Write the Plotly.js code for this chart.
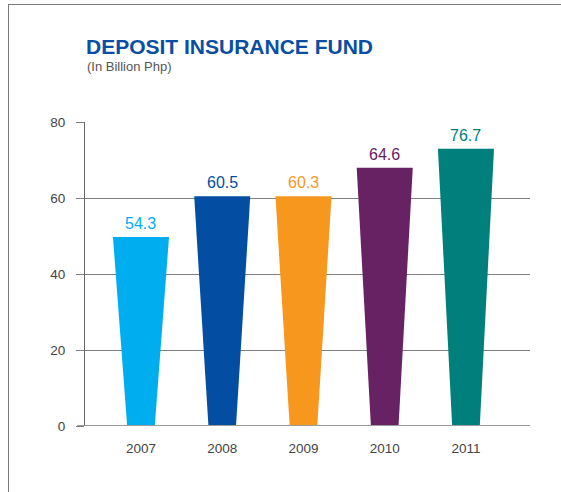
<!DOCTYPE html>
<html>
<head>
<meta charset="utf-8">
<script src="https://cdn.plot.ly/plotly-3.0.1.min.js"></script>
<style>
  html, body { margin: 0; padding: 0; background: #fff; }
  #wrap { position: relative; width: 561px; height: 492px; }
  #chart { width: 561px; height: 492px; }
  #frame { position: absolute; left: 8px; top: 4px; right: 0; bottom: 0;
           border-top: 1px solid #7a7a7a; border-left: 1px solid #7a7a7a;
           pointer-events: none; }
</style>
</head>
<body>
<div id="wrap">
  <div id="chart"></div>
  <div id="frame"></div>
</div>
<script>
// Data
var years = ["2007", "2008", "2009", "2010", "2011"];
var valueLabels = ["54.3", "60.5", "60.3", "64.6", "76.7"];
// drawn bar heights (as they appear against the axis)
var barHeights = [49.8, 60.5, 60.5, 68.0, 73.0];
var barColors = ["#00AEEF", "#034EA2", "#F7971E", "#662263", "#007F7D"];

var topHalf = 0.345, bottomHalf = 0.17;
var traces = [];
years.forEach(function (yr, i) {
  var v = barHeights[i];
  traces.push({
    type: "scatter", mode: "lines",
    x: [i - topHalf, i + topHalf, i + bottomHalf, i - bottomHalf, i - topHalf],
    y: [v, v, 0, 0, v],
    fill: "toself", fillcolor: barColors[i],
    line: { width: 0, color: barColors[i] },
    hoverinfo: "skip", showlegend: false
  });
});

var annotations = [{
  text: "(In Billion Php)", showarrow: false,
  xref: "paper", yref: "paper",
  x: 0, xanchor: "left",
  y: (426 - 66) / 304, yanchor: "middle",
  font: { family: "Liberation Sans, Arial, sans-serif", size: 13, color: "#555" }
}];
years.forEach(function (yr, i) {
  annotations.push({
    text: valueLabels[i], showarrow: false,
    xref: "x", yref: "y", x: i, y: barHeights[i],
    xanchor: "center", yanchor: "bottom", yshift: 3,
    font: { family: "Liberation Sans, Arial, sans-serif", size: 16, color: barColors[i] }
  });
});

var layout = {
  width: 561, height: 492,
  margin: { l: 85, r: 31, t: 122, b: 66 },
  paper_bgcolor: "#fff", plot_bgcolor: "#fff",
  font: { family: "Liberation Sans, Arial, sans-serif", color: "#444" },
  title: {
    text: "DEPOSIT INSURANCE FUND",
    font: { family: "Liberation Sans, Arial, sans-serif", size: 21, color: "#0A4EA2", weight: "bold" },
    x: 86 / 561, xanchor: "left", xref: "container",
    y: 1 - 47 / 492, yanchor: "middle", yref: "container"
  },
  annotations: annotations,
  xaxis: {
    range: [-0.689, 4.788],
    tickmode: "array",
    tickvals: years.map(function (_, i) { return i; }),
    ticktext: years,
    showgrid: false, zeroline: false, showline: false,
    ticks: "", tickfont: { size: 13.5, color: "#444" },
    ticklabelstandoff: 12,
    fixedrange: true
  },
  yaxis: {
    range: [0, 80.05],
    tickvals: [0, 20, 40, 60, 80],
    showgrid: true, gridcolor: "#7f7f7f", gridwidth: 1,
    zeroline: false,
    showline: true, linecolor: "#666", linewidth: 1,
    ticks: "outside", ticklen: 8, tickcolor: "#7f7f7f", tickwidth: 1,
    tickfont: { size: 13.5, color: "#444" },
    ticklabelstandoff: 8,
    fixedrange: true
  },
  shapes: [{
    type: "line", xref: "paper", yref: "y",
    x0: -8 / 445, x1: 1, y0: 0, y1: 0,
    line: { color: "#9a9a9a", width: 2 }
  }]
};

Plotly.newPlot("chart", traces, layout, { displayModeBar: false, staticPlot: true });
</script>
</body>
</html>
